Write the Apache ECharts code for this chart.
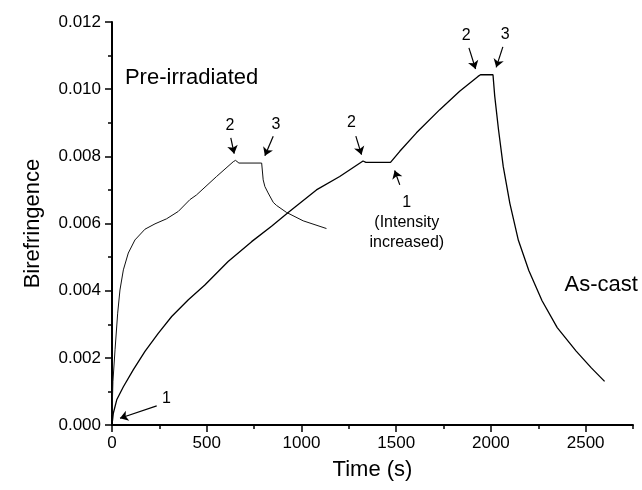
<!DOCTYPE html>
<html>
<head>
<meta charset="utf-8">
<script src="https://cdn.jsdelivr.net/npm/echarts@6/dist/echarts.min.js"></script>
<style>html,body{margin:0;padding:0;background:#fff}#c{width:642px;height:490px}</style>
</head>
<body>
<div id="c"></div>
<script>
// ---- data (time in s, birefringence) ----
var preTime = [0, 5, 16, 30, 42, 60, 86, 121, 174, 227, 288, 350, 411, 446, 552, 640, 652, 670, 790, 798, 807, 824, 851, 868, 921, 1009, 1132];
var preValue = [0.0003, 0.0013, 0.00224, 0.00333, 0.00402, 0.00462, 0.00512, 0.00551, 0.00583, 0.00599, 0.00614, 0.00636, 0.00671, 0.00685, 0.0074, 0.00784, 0.00788, 0.0078, 0.0078, 0.0073, 0.0071, 0.00691, 0.00663, 0.00654, 0.00633, 0.00608, 0.00585];

var castTime = [0, 7, 25, 60, 112, 174, 244, 315, 403, 490, 613, 737, 842, 930, 1079, 1202, 1325, 1340, 1470, 1480, 1519, 1607, 1730, 1835, 1932, 1945, 2011, 2020, 2040, 2065, 2100, 2145, 2200, 2270, 2350, 2450, 2530, 2600];
var castValue = [0, 0.00035, 0.00075, 0.00114, 0.00164, 0.00219, 0.00273, 0.00323, 0.00373, 0.00417, 0.00487, 0.00546, 0.00592, 0.00633, 0.007, 0.0074, 0.00786, 0.00782, 0.00782, 0.00785, 0.00815, 0.0087, 0.00939, 0.00994, 0.01038, 0.01043, 0.01043, 0.0098, 0.0088, 0.0077, 0.0066, 0.0055, 0.0046, 0.0037, 0.0029, 0.0022, 0.0017, 0.0013];

// tick values / labels
var xMajorTicks = [0, 500, 1000, 1500, 2000, 2500];
var xMinorTicks = [250, 750, 1250, 1750, 2250, 2750];

// annotation texts and their anchor points (data coords)
var noteText = ['1', '2', '3', '2', '1\n(Intensity\nincreased)', '2', '3'];
var noteTime = [288, 622, 865, 1264, 1556, 1870, 2076];
var noteValue = [0.00079, 0.00891, 0.00894, 0.00899, 0.00603, 0.0116, 0.01163];

// arrows: start -> end (data coords)
var arrowStartTime = [236, 627, 851, 1287, 1519, 1884, 2063];
var arrowStartValue = [0.00057, 0.00855, 0.0086, 0.0086, 0.00715, 0.01123, 0.01126];
var arrowEndTime = [42, 645, 807, 1317, 1492, 1919, 2028];
var arrowEndValue = [0.0002, 0.00808, 0.00802, 0.00805, 0.00758, 0.0106, 0.01065];

var curveLabels = ['Pre-irradiated', 'As-cast'];
var curveLabelTime = [420, 2582];
var curveLabelValue = [0.01034, 0.00417];

// ---- build ----
function zip(a, b) { return a.map(function (v, i) { return [v, b[i]]; }); }
var FONT = 'Liberation Sans, Arial, Helvetica, sans-serif';

var arrows = arrowStartTime.map(function (t, i) {
  return [{ coord: [t, arrowStartValue[i]] }, { coord: [arrowEndTime[i], arrowEndValue[i]] }];
});
function textPoints(texts, ts, vs, size, lh) {
  return texts.map(function (s, i) {
    return {
      coord: [ts[i], vs[i]], value: s,
      label: { show: true, position: 'inside', formatter: s, color: '#000', opacity: 1,
        fontFamily: FONT, fontSize: size, lineHeight: lh, align: 'center', verticalAlign: 'middle',
        textBorderWidth: 0 }
    };
  });
}
var notePoints = textPoints(noteText, noteTime, noteValue, 16, 20)
  .concat(textPoints(curveLabels, curveLabelTime, curveLabelValue, 22, 26));

var chart = echarts.init(document.getElementById('c'), null, { renderer: 'canvas' });
chart.setOption({
  animation: false,
  backgroundColor: '#fff',
  grid: { left: 112, right: 9, top: 22, bottom: 65 },
  xAxis: [{
    type: 'value', min: 0, max: 2750, interval: 250,
    name: 'Time (s)', nameLocation: 'middle', nameGap: 34,
    nameTextStyle: { fontFamily: FONT, fontSize: 22, color: '#000' },
    axisLine: { show: true, lineStyle: { color: '#000', width: 2 } },
    axisTick: { show: true, length: 7, lineStyle: { color: '#000', width: 1.5 }, customValues: xMajorTicks },
    axisLabel: { show: true, margin: 10, fontFamily: FONT, fontSize: 17, color: '#000', customValues: xMajorTicks,
      formatter: function (v) { return String(v); } },
    splitLine: { show: false }
  }, {
    type: 'value', min: 0, max: 2750, interval: 250, position: 'bottom',
    axisLine: { show: false },
    axisTick: { show: true, length: 4, lineStyle: { color: '#000', width: 1.5 }, customValues: xMinorTicks },
    axisLabel: { show: false },
    splitLine: { show: false }
  }],
  yAxis: {
    type: 'value', min: 0, max: 0.012, interval: 0.002,
    name: 'Birefringence', nameLocation: 'middle', nameGap: 68,
    nameTextStyle: { fontFamily: FONT, fontSize: 22, color: '#000' },
    axisLine: { show: true, lineStyle: { color: '#000', width: 2 } },
    axisTick: { show: true, length: 7, lineStyle: { color: '#000', width: 1.5 } },
    minorTick: { show: true, splitNumber: 2, length: 4, lineStyle: { color: '#000', width: 1.5 } },
    axisLabel: { margin: 11, fontFamily: FONT, fontSize: 17, color: '#000',
      formatter: function (v) { return v.toFixed(3); } },
    splitLine: { show: false }
  },
  series: [{
    name: 'Pre-irradiated', type: 'line', showSymbol: false, data: zip(preTime, preValue),
    lineStyle: { color: '#111', width: 1 }, itemStyle: { color: '#111' }
  }, {
    name: 'As-cast', type: 'line', showSymbol: false, data: zip(castTime, castValue),
    lineStyle: { color: '#000', width: 1.3 }, itemStyle: { color: '#000' },
    markLine: {
      silent: true, symbol: ['none', 'arrow'], symbolSize: [8, 8], precision: 6,
      lineStyle: { color: '#000', width: 1.2, type: 'solid' },
      label: { show: false },
      data: arrows
    },
    markPoint: {
      silent: true, symbol: 'rect', symbolSize: 1,
      itemStyle: { color: 'rgba(255,255,255,0)' },
      data: notePoints
    }
  }]
});
</script>
</body>
</html>
